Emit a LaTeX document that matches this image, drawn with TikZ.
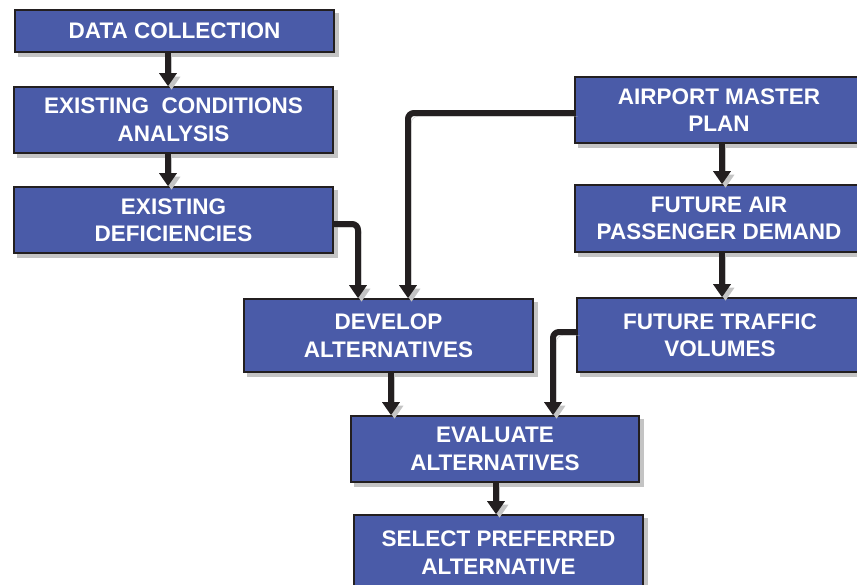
\documentclass[tikz,border=0pt]{standalone}
\usepackage{fontspec}
\setmainfont{Liberation Sans}[BoldFont={Liberation Sans Bold}]
\usetikzlibrary{arrows.meta,shadows,calc}
\definecolor{boxblue}{HTML}{4A5BA8}
\definecolor{edge}{HTML}{231F20}
\definecolor{shade}{HTML}{C4C4C4}
\tikzset{
  box/.style={draw=edge, line width=1.6pt, fill=boxblue, text=white,
    font=\fontsize{22.5}{27.5}\selectfont\bfseries, align=center,
    inner sep=0pt,
    general shadow={fill=shade, draw=shade, shadow xshift=4pt, shadow yshift=-4pt}},
  conn/.style={draw=edge, line width=6pt, rounded corners=6pt,
    -{Triangle[width=17pt,length=13pt]},
    preaction={draw=shade, transform canvas={shift={(3.5pt,-3.5pt)}}}}
}
\begin{document}
\begin{tikzpicture}[x=1pt,y=-1pt]
\useasboundingbox (0,0) rectangle (857,584);
\fill[white] (0,0) rectangle (857,584);
% left column
\node[box, minimum width=319pt, minimum height=42pt] (dc) at (174.5,31) {DATA COLLECTION};
\node[box, minimum width=319pt, minimum height=66pt] (eca) at (173.5,120) {EXISTING\ \ CONDITIONS\\ANALYSIS};
\node[box, minimum width=319pt, minimum height=66pt] (ed) at (173.5,220) {EXISTING\\DEFICIENCIES};
% centre
\node[box, minimum width=289pt, minimum height=73pt] (dev) at (388.5,335.5) {DEVELOP\\ALTERNATIVES};
\node[box, minimum width=288pt, minimum height=66pt] (eval) at (495,449) {EVALUATE\\ALTERNATIVES};
\node[box, minimum width=289pt, minimum height=75pt] (sel) at (498.5,552.5) {SELECT PREFERRED\\ALTERNATIVE};
% right column (cut at page edge)
\node[box, minimum width=288pt, minimum height=66pt] (amp) at (719,110) {AIRPORT MASTER\\PLAN};
\node[box, minimum width=288pt, minimum height=67pt] (fapd) at (719,218.5) {FUTURE AIR\\PASSENGER DEMAND};
\node[box, minimum width=286pt, minimum height=74pt] (ftv) at (720,335) {FUTURE TRAFFIC\\VOLUMES};
% connectors
\draw[conn] ([xshift=-6.5pt]dc.south) -- ([xshift=-6.5pt]dc.south |- eca.north);
\draw[conn] ([xshift=-5.5pt]eca.south) -- ([xshift=-5.5pt]eca.south |- ed.north);
\draw[conn] ([yshift=-4pt]ed.east) -| ([xshift=-30.5pt]dev.north);
\draw[conn] ([yshift=-3pt]amp.west) -| ([xshift=19.5pt]dev.north);
\draw[conn] ([xshift=3pt]amp.south) -- ([xshift=3pt]amp.south |- fapd.north);
\draw[conn] ([xshift=3pt]fapd.south) -- ([xshift=3pt]fapd.south |- ftv.north);
\draw[conn] ([xshift=2.5pt]dev.south) -- ([xshift=2.5pt]dev.south |- eval.north);
\draw[conn] ([yshift=3pt]ftv.west) -| ([xshift=58pt]eval.north);
\draw[conn] ([xshift=1pt]eval.south) -- ([xshift=1pt]eval.south |- sel.north);
\end{tikzpicture}
\end{document}
